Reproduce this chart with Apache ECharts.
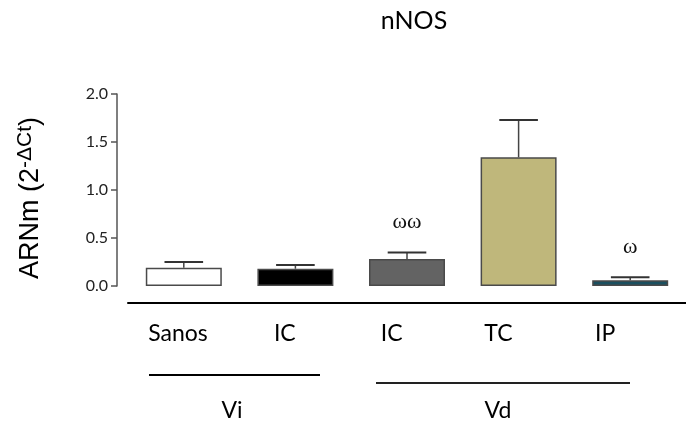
<!DOCTYPE html>
<html>
<head>
<meta charset="utf-8">
<script src="https://cdn.jsdelivr.net/npm/echarts@6/dist/echarts.min.js"></script>
<style>
html,body{margin:0;padding:0;background:#fff;}
#main{width:686px;height:424px;}
</style>
</head>
<body>
<div id="main"></div>
<script>
var categories = ['Sanos', 'IC', 'IC', 'TC', 'IP'];
var means = [0.19, 0.18, 0.28, 1.34, 0.06];
var upper = [0.25, 0.22, 0.35, 1.73, 0.09];
var annotations = ['', '', 'ωω', '', 'ω'];
var barColors = ['#ffffff', '#000000', '#636363', '#bfb77b', '#1b4f5f'];
var yTicks = [0, 0.5, 1.0, 1.5, 2.0];
var groups = ['Vi', 'Vd'];

var FONT = 'Lato';
var chart = echarts.init(document.getElementById('main'), null, {renderer: 'canvas'});

var errData = categories.map(function (c, i) { return [i, means[i], upper[i]]; });

var option = {
  animation: false,
  backgroundColor: '#ffffff',
  title: {
    text: 'nNOS',
    left: 409,
    top: 3,
    textAlign: 'center',
    textStyle: {fontFamily: FONT, fontSize: 25, fontWeight: 'normal', color: '#000'}
  },
  grid: [
    {left: 128, top: 94, width: 565, height: 192},
    {left: 124.6, top: 94, width: 534, height: 192}
  ],
  xAxis: [
    {
      type: 'category', gridIndex: 0, data: categories, offset: 17,
      axisLine: {onZero: false, lineStyle: {color: '#000', width: 2}},
      axisTick: {show: false}, axisLabel: {show: false}, splitLine: {show: false}
    },
    {
      type: 'category', gridIndex: 1, data: categories,
      axisLine: {show: false, onZero: false}, axisTick: {show: false}, splitLine: {show: false},
      axisLabel: {margin: 36, fontFamily: FONT, fontSize: 23, color: '#000'}
    }
  ],
  yAxis: [
    {
      type: 'value', gridIndex: 0, min: 0, max: 2.0, interval: 0.5, offset: 11,
      axisLine: {show: true, onZero: false, lineStyle: {color: '#555', width: 1.5}},
      axisTick: {show: true, length: 6, lineStyle: {color: '#555', width: 1.5}},
      splitLine: {show: false},
      axisLabel: {
        margin: 9, fontFamily: FONT, fontSize: 16, color: '#222',
        formatter: function (v) { return v.toFixed(1); }
      },
      name: '{b|ARNm (2}{s|-ΔCt}{b|)}',
      nameLocation: 'middle',
      nameRotate: 90,
      nameGap: 70,
      nameTextStyle: {
        padding: [0, 16, 0, 0],
        rich: {
          b: {fontFamily: 'Liberation Sans', fontSize: 27, color: '#000'},
          s: {fontFamily: 'Liberation Sans', fontSize: 21, color: '#000', verticalAlign: 'top', padding: [0, 0, 11, 0]}
        }
      }
    },
    {type: 'value', gridIndex: 1, min: 0, max: 2.0, show: false}
  ],
  series: [
    {
      type: 'bar', xAxisIndex: 0, yAxisIndex: 0,
      data: means.map(function (v, i) {
        return {value: v, itemStyle: {color: barColors[i]}};
      }),
      barWidth: 76,
      itemStyle: {borderColor: '#4a4a4a', borderWidth: 1.5},
      z: 2
    },
    {
      type: 'custom', xAxisIndex: 0, yAxisIndex: 0,
      data: errData,
      z: 3,
      renderItem: function (params, api) {
        var idx = api.value(0);
        var p0 = api.coord([idx, api.value(1)]);
        var p1 = api.coord([idx, api.value(2)]);
        var half = api.size([1, 0])[0] * 0.173;
        var children = [
          {type: 'line', shape: {x1: p0[0], y1: p0[1], x2: p1[0], y2: p1[1]},
           style: {stroke: '#444', lineWidth: 1.5}},
          {type: 'line', shape: {x1: p1[0] - half, y1: p1[1], x2: p1[0] + half, y2: p1[1]},
           style: {stroke: '#333', lineWidth: 2}}
        ];
        var a = annotations[params.dataIndex];
        if (a) {
          children.push({
            type: 'text',
            style: {
              text: a, x: p1[0], y: p1[1] - 30,
              align: 'center', verticalAlign: 'middle',
              font: '22px "Liberation Serif"', fill: '#111'
            }
          });
        }
        return {type: 'group', children: children};
      }
    }
  ],
  graphic: [
    {type: 'line', shape: {x1: 149, y1: 375, x2: 320, y2: 375}, style: {stroke: '#000', lineWidth: 2}},
    {type: 'line', shape: {x1: 376, y1: 383, x2: 630, y2: 383}, style: {stroke: '#222', lineWidth: 2}},
    {type: 'text', x: 232, y: 411, style: {text: groups[0], align: 'center', verticalAlign: 'middle',
      font: '23px Lato', fill: '#000'}},
    {type: 'text', x: 498, y: 411, style: {text: groups[1], align: 'center', verticalAlign: 'middle',
      font: '23px Lato', fill: '#000'}}
  ]
};
chart.setOption(option);
</script>
</body>
</html>
